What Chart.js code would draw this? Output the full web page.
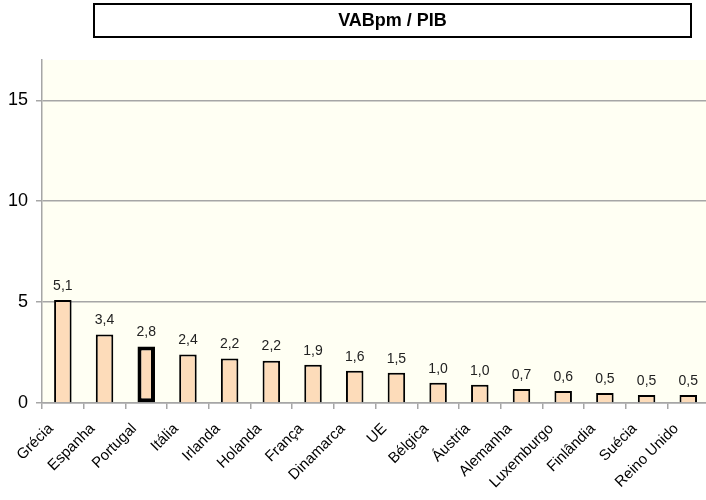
<!DOCTYPE html>
<html>
<head>
<meta charset="utf-8">
<script src="https://cdn.jsdelivr.net/npm/chart.js@4"></script>
<style>
  body { margin: 0; background: #fff; }
  #wrap { position: relative; width: 706px; height: 500px; overflow: hidden; }
  #myChart { display: block; }
  #title {
    position: absolute; left: 93px; top: 3px; width: 595px; height: 31px;
    border: 2px solid #000; display: flex; align-items: center; justify-content: center;
    font: bold 18px "Liberation Sans", Arial, sans-serif; color: #000;
  }
</style>
</head>
<body>
<div id="wrap">
  <canvas id="myChart" width="712" height="500"></canvas>
  <div id="title">VABpm / PIB</div>
</div>
<script>
// dados
const paises = ["Grécia", "Espanha", "Portugal", "Itália", "Irlanda", "Holanda", "França", "Dinamarca",
    "UE", "Bélgica", "Áustria", "Alemanha", "Luxemburgo", "Finlândia", "Suécia", "Reino Unido"];
const valores = [5.1, 3.4, 2.8, 2.4, 2.2, 2.1, 1.9, 1.6, 1.5, 1.0, 0.9, 0.7, 0.6, 0.5, 0.4, 0.4];
const rotulos = ["5,1", "3,4", "2,8", "2,4", "2,2", "2,2", "1,9", "1,6", "1,5", "1,0", "1,0", "0,7", "0,6", "0,5", "0,5", "0,5"];
const destaque = "Portugal";

const font = "'Liberation Sans', Arial, sans-serif";

const fundo = {
    id: "fundo",
    beforeDraw(chart) {
        const { ctx, chartArea: a } = chart;
        ctx.save();
        ctx.fillStyle = "#fffff3";
        ctx.fillRect(a.left, a.top, a.right - a.left, a.bottom - a.top);
        ctx.restore();
    },
};

const etiquetas = {
    id: "etiquetas",
    afterDatasetsDraw(chart) {
        const { ctx } = chart;
        const meta = chart.getDatasetMeta(0);
        ctx.save();
        ctx.font = "14px " + font;
        ctx.fillStyle = "#222";
        ctx.textAlign = "center";
        ctx.textBaseline = "bottom";
        meta.data.forEach((bar, i) => {
            ctx.fillText(rotulos[i], bar.x, bar.y - 7);
        });
        ctx.restore();
    },
};

document.addEventListener("DOMContentLoaded", () => {
    const ctx = document.getElementById("myChart").getContext("2d");
    new Chart(ctx, {
        type: "bar",
        data: {
            labels: paises,
            datasets: [
                {
                    data: valores,
                    backgroundColor: "#fddcba",
                    borderColor: "#000",
                    borderWidth: (c) => (paises[c.dataIndex] === destaque ? 4 : 2),
                    borderSkipped: (c) => (paises[c.dataIndex] === destaque ? false : "start"),
                    barPercentage: 0.42,
                    categoryPercentage: 1,
                },
            ],
        },
        options: {
            responsive: false,
            animation: false,
            layout: { padding: { top: 60, right: 0, left: 0, bottom: 0 } },
            plugins: {
                legend: { display: false },
                tooltip: { enabled: false },
            },
            scales: {
                x: {
                    afterFit: (s) => { s.height = 97; },
                    grid: {
                        offset: true,
                        drawOnChartArea: false,
                        drawTicks: true,
                        tickLength: 6,
                        color: "#a6a6a6",
                        lineWidth: 1.5,
                    },
                    border: { color: "#a6a6a6", width: 1.5 },
                    ticks: {
                        font: { family: font, size: 15 },
                        color: "#000",
                        minRotation: 45,
                        maxRotation: 45,
                        padding: 11,
                        labelOffset: -12,
                        autoSkip: false,
                    },
                },
                y: {
                    min: 0,
                    max: 17,
                    afterFit: (s) => { s.width = 42; },
                    grid: {
                        color: "#a6a6a6",
                        lineWidth: 1.5,
                        tickLength: 6,
                    },
                    border: { color: "#a6a6a6", width: 1.5 },
                    ticks: {
                        stepSize: 5,
                        includeBounds: false,
                        font: { family: font, size: 18 },
                        color: "#000",
                        padding: 8,
                    },
                },
            },
        },
        plugins: [fundo, etiquetas],
    });
});
</script>
</body>
</html>
